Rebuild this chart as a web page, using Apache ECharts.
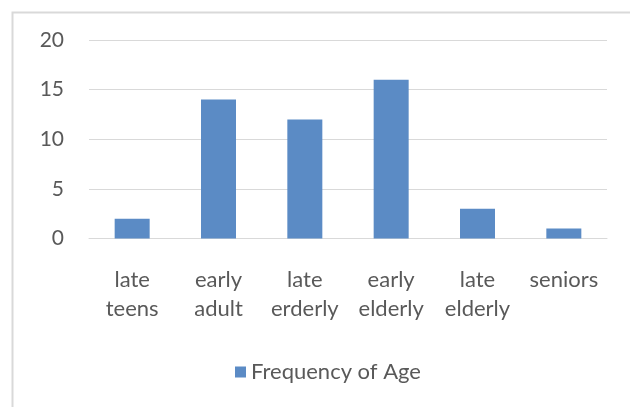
<!DOCTYPE html>
<html><head><meta charset="utf-8">
<script src="https://cdn.jsdelivr.net/npm/echarts@6/dist/echarts.min.js"></script>
<style>html,body{margin:0;padding:0;background:#fff}#c{width:630px;height:407px}</style>
</head><body><div id="c"></div>
<script>
const categories = ["late teens", "early adult", "late erderly", "early elderly", "late elderly", "seniors"];
const frequency = [2, 14, 12, 16, 3, 1];
const yTicks = { min: 0, max: 20, interval: 5 };
const seriesName = "Frequency of Age";

const chart = echarts.init(document.getElementById('c'), null, {renderer: 'canvas'});
const font = 'Lato, "Open Sans", sans-serif';
chart.setOption({
  animation: false,
  graphic: [{
    type: 'rect', left: 10, top: 10, shape: {width: 700, height: 500},
    style: {fill: 'none', stroke: '#d9d9d9', lineWidth: 2}, silent: true, z: -1
  }],
  grid: {left: 89, right: 23, top: 40, bottom: 168.5, containLabel: false},
  xAxis: {
    type: 'category', data: categories,
    axisLine: {lineStyle: {color: '#d9d9d9', width: 1}},
    axisTick: {show: false},
    axisLabel: {
      interval: 0, margin: 27, color: '#595959', fontSize: 22, fontFamily: font,
      lineHeight: 29, formatter: v => v.split(' ').join('\n')
    }
  },
  yAxis: {
    type: 'value', min: yTicks.min, max: yTicks.max, interval: yTicks.interval,
    axisLine: {show: false}, axisTick: {show: false},
    splitLine: {lineStyle: {color: '#d9d9d9', width: 1}},
    axisLabel: {margin: 25, color: '#595959', fontSize: 21, fontFamily: font}
  },
  legend: {
    bottom: 19, left: 230, itemWidth: 11, itemHeight: 11, itemGap: 10,
    icon: 'rect',
    textStyle: {color: '#595959', fontSize: 22, fontFamily: font},
    data: [seriesName]
  },
  series: [{
    name: seriesName, type: 'bar', data: frequency, barWidth: 35,
    itemStyle: {color: '#5b8bc5'}
  }]
});
</script></body></html>
